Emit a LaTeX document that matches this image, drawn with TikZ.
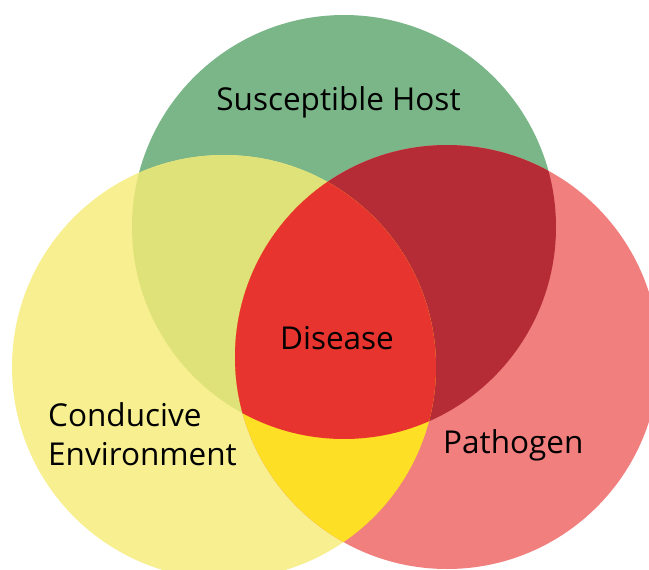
\documentclass[tikz,border=0pt]{standalone}
\usepackage{fontspec}
\setmainfont{Open Sans}
\definecolor{hostgreen}{HTML}{7AB688}
\definecolor{envyellow}{HTML}{F8EF90}
\definecolor{pathpink}{HTML}{F07F7E}
\definecolor{hostenv}{HTML}{DFE279}
\definecolor{hostpath}{HTML}{B52C37}
\definecolor{envpath}{HTML}{FDE025}
\definecolor{disease}{HTML}{E8342F}
\tikzset{
  lbl/.style={inner sep=0pt, font=\fontsize{31.5}{39}\selectfont, text=black},
}
\begin{document}
\begin{tikzpicture}[x=1pt,y=-1pt]
\useasboundingbox (0,0) rectangle (649,570);
\clip (0,0) rectangle (649,570);
\def\G{(344,227) circle[radius=212]}
\def\Y{(224,367) circle[radius=212]}
\def\P{(447,357) circle[radius=212]}
% single circles
\fill[hostgreen] \G;
\fill[envyellow] \Y;
\fill[pathpink] \P;
% pairwise overlaps
\begin{scope}
  \clip \G;
  \fill[hostenv] \Y;
  \fill[hostpath] \P;
\end{scope}
\begin{scope}
  \clip \Y;
  \fill[envpath] \P;
\end{scope}
% triple overlap
\begin{scope}
  \clip \G;
  \clip \Y;
  \fill[disease] \P;
\end{scope}
% labels
\node[lbl, anchor=base] (host) at (338.5,110) {Susceptible Host};
\node[lbl, anchor=base] (dis) at (337,349) {Disease};
\node[lbl, anchor=base west] (path) at (443,453) {Pathogen};
\node[lbl, anchor=base west] (env1) at (48,426) {Conducive};
\node[lbl, anchor=base west] (env2) at (48,465) {Environment};
\end{tikzpicture}
\end{document}
